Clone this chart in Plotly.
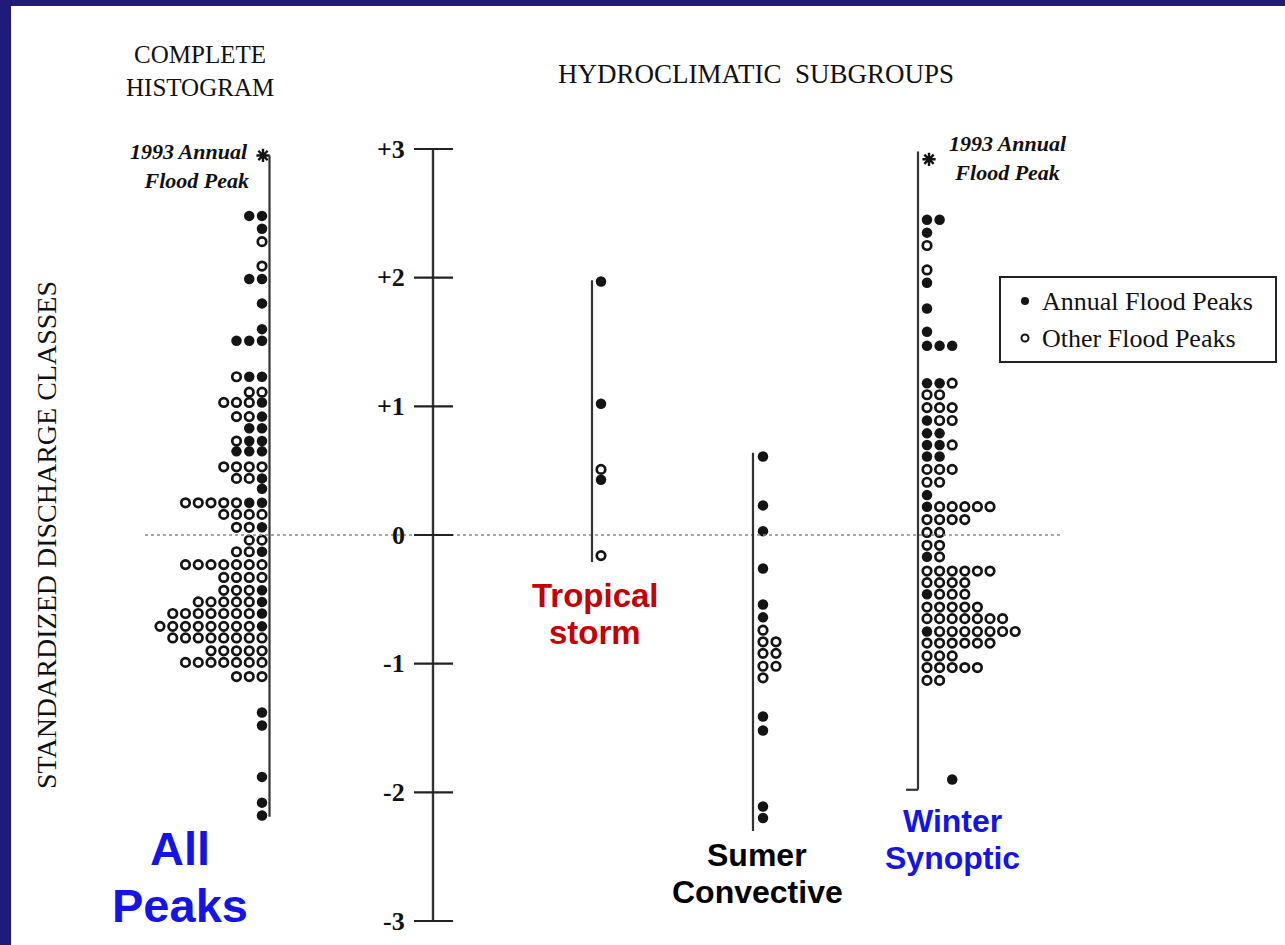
import plotly.graph_objects as go

# ---- standardized discharge classes: one row per class ----
# each row: (class value, annual flood peaks, other flood peaks)
all_values = [2.48, 2.38, 2.28, 2.09, 1.99, 1.80, 1.60, 1.51, 1.23, 1.11, 1.03, 0.92,
              0.83, 0.73, 0.65, 0.53, 0.44, 0.36, 0.25, 0.16, 0.06, -0.04, -0.13, -0.23,
              -0.33, -0.43, -0.52, -0.61, -0.71, -0.80, -0.90, -0.99, -1.10, -1.38, -1.48,
              -1.88, -2.08, -2.18]
all_annual = [2, 1, 0, 0, 2, 1, 1, 3, 2, 0, 1, 1, 2, 2, 3, 0, 1, 1, 2, 0, 1, 0, 1, 0,
              0, 1, 1, 1, 1, 0, 0, 0, 0, 1, 1, 1, 1, 1]
all_other = [0, 0, 1, 1, 0, 0, 0, 0, 1, 2, 3, 2, 0, 1, 0, 4, 2, 0, 5, 4, 2, 2, 2, 7,
             4, 3, 5, 7, 8, 8, 5, 7, 3, 0, 0, 0, 0, 0]

tropical_values = [1.97, 1.02, 0.51, 0.43, -0.16]
tropical_annual = [1, 1, 0, 1, 0]
tropical_other = [0, 0, 1, 0, 1]

summer_values = [0.61, 0.23, 0.03, -0.26, -0.54, -0.64, -0.74, -0.83, -0.92, -1.02,
                 -1.11, -1.41, -1.52, -2.11, -2.20]
summer_annual = [1, 1, 1, 1, 1, 1, 0, 0, 0, 0, 0, 1, 1, 1, 1]
summer_other = [0, 0, 0, 0, 0, 0, 1, 2, 2, 2, 1, 0, 0, 0, 0]

winter_values = [2.45, 2.35, 2.25, 2.06, 1.96, 1.76, 1.58, 1.47, 1.18, 1.09, 0.99, 0.89,
                 0.79, 0.70, 0.61, 0.51, 0.41, 0.31, 0.22, 0.12, 0.02, -0.08, -0.17,
                 -0.28, -0.37, -0.46, -0.56, -0.65, -0.75, -0.84, -0.94, -1.03, -1.13, -1.90]
winter_annual = [2, 1, 0, 0, 1, 1, 1, 3, 2, 0, 0, 1, 2, 2, 2, 0, 0, 1, 1, 0, 0, 0, 1,
                 0, 0, 1, 0, 0, 1, 0, 0, 0, 0, 1]
winter_other = [0, 0, 1, 1, 0, 0, 0, 0, 1, 2, 3, 2, 0, 1, 0, 3, 2, 0, 5, 4, 2, 2, 1,
                6, 4, 3, 5, 7, 7, 6, 3, 5, 2, 0]
winter_start = [0] * 33 + [2]

axis_ticks = [3, 2, 1, 0, -1, -2, -3]
axis_tick_text = ["+3", "+2", "+1", "0", "-1", "-2", "-3"]
peak_1993 = 2.95

# ---- page geometry ----
W, H = 1285, 945
PX_PER_UNIT = 128.67
Y_TOP = 3 + 149 / PX_PER_UNIT
Y_BOT = -3 - (H - 921) / PX_PER_UNIT
INK = "#141414"


def py(v):
    """pixel row of a class value"""
    return (Y_TOP - v) * PX_PER_UNIT


fig = go.Figure()


def add_group(x_axis, direction, gap, dx, values, annual, other, start=None):
    fx, fy, ox, oy = [], [], [], []
    for i, (v, nf, no) in enumerate(zip(values, annual, other)):
        s = start[i] if start else 0
        for k in range(nf + no):
            x = x_axis + direction * (gap + (s + k) * dx)
            if k < nf:
                fx.append(x); fy.append(v)
            else:
                ox.append(x); oy.append(v)
    fig.add_trace(go.Scatter(x=fx, y=fy, mode="markers", showlegend=False, hoverinfo="skip",
                             marker=dict(size=10.5, color=INK, line=dict(width=0))))
    fig.add_trace(go.Scatter(x=ox, y=oy, mode="markers", showlegend=False, hoverinfo="skip",
                             marker=dict(size=8.5, symbol="circle-open", color=INK,
                                         line=dict(width=2.7, color=INK))))


# group axes (x position in page pixels, top/bottom in class units)
AX_ALL, AX_TROP, AX_SUM, AX_WIN, AX_MAIN = 269.5, 592, 753, 918, 433

shapes = []


def vline(x, y0, y1, w=2.2):
    shapes.append(dict(type="line", xref="x", yref="y", x0=x, x1=x, y0=y0, y1=y1,
                       line=dict(color="#333", width=w)))


# zero reference line
shapes.append(dict(type="line", xref="x", yref="y", x0=145, x1=1062, y0=0, y1=0,
                   line=dict(color="#8a8a8a", width=1.6, dash="dot")))

vline(AX_ALL, 2.95, -2.19)
vline(AX_TROP, 1.98, -0.21)
vline(AX_SUM, 0.64, -2.30)
vline(AX_WIN, 2.98, -1.98)
shapes.append(dict(type="line", xref="x", yref="y", x0=906, x1=AX_WIN, y0=-1.98, y1=-1.98,
                   line=dict(color="#333", width=2.2)))
vline(AX_MAIN, 3, -3, 2.4)
for t in axis_ticks:
    shapes.append(dict(type="line", xref="x", yref="y", x0=414, x1=453, y0=t, y1=t,
                       line=dict(color="#222", width=2.2)))

add_group(AX_ALL, -1, 7.5, 12.75, all_values, all_annual, all_other)
add_group(AX_TROP, 1, 9, 13, tropical_values, tropical_annual, tropical_other)
add_group(AX_SUM, 1, 10, 13, summer_values, summer_annual, summer_other)
add_group(AX_WIN, 1, 9, 12.6, winter_values, winter_annual, winter_other, winter_start)

# 1993 annual flood peak markers
fig.add_trace(go.Scatter(x=[263, 929], y=[peak_1993, peak_1993 - 0.03], mode="markers",
                         showlegend=False, hoverinfo="skip",
                         marker=dict(symbol="asterisk-open", size=11, color=INK,
                                     line=dict(width=2.4, color=INK))))

# page frame
NAVY = "#1f1b7a"
shapes.append(dict(type="rect", xref="paper", yref="paper", x0=0, x1=1, y0=1 - 6 / H, y1=1,
                   fillcolor=NAVY, line=dict(width=0)))
shapes.append(dict(type="rect", xref="paper", yref="paper", x0=0, x1=11 / W, y0=0, y1=1,
                   fillcolor=NAVY, line=dict(width=0)))

# legend box
shapes.append(dict(type="rect", xref="paper", yref="paper", x0=1000 / W, x1=1276 / W,
                   y0=1 - 362 / H, y1=1 - 277 / H, line=dict(color="#222", width=2),
                   fillcolor="rgba(0,0,0,0)"))

annotations = []
SERIF = "Liberation Serif"
SANS = "Liberation Sans"


def text(x, y, s, size, family=SERIF, color="#111", anchor="center", angle=0, **kw):
    annotations.append(dict(xref="paper", yref="paper", x=x / W, y=1 - y / H, text=s,
                            showarrow=False, xanchor=anchor, yanchor="middle",
                            textangle=angle,
                            font=dict(family=family, size=size, color=color), **kw))


text(200, 71, "COMPLETE<br>HISTOGRAM", 25)
text(756, 74, "HYDROCLIMATIC&nbsp;&nbsp;SUBGROUPS", 27)
text(46, 535, "STANDARDIZED DISCHARGE CLASSES", 28, angle=-90)

text(188, 166, "<i><b>1993 Annual</b><br>&nbsp;&nbsp;&nbsp;<b>Flood Peak</b></i>", 22)
text(1008, 158, "<i><b>1993 Annual</b><br><b>Flood Peak</b></i>", 22)

for t, lab in zip(axis_ticks, axis_tick_text):
    text(407, py(t), "<b>" + lab + "</b>", 26, anchor="right")

# legend entries
fig.add_trace(go.Scatter(x=[1025], y=[(Y_TOP - 301 / PX_PER_UNIT)], mode="markers",
                         showlegend=False, hoverinfo="skip",
                         marker=dict(size=8, color=INK)))
fig.add_trace(go.Scatter(x=[1025], y=[(Y_TOP - 338 / PX_PER_UNIT)], mode="markers",
                         showlegend=False, hoverinfo="skip",
                         marker=dict(size=7, symbol="circle-open", color=INK,
                                     line=dict(width=2, color=INK))))
text(1040, 301, "Annual Flood Peaks", 26, anchor="left")
text(1040, 338, "Other Flood Peaks", 26, anchor="left")

# subgroup captions
RED, BLUE = "#c40000", "#1414e6"
text(595, 595, "<b>Tropical</b>", 33, SANS, RED)
text(595, 632, "<b>storm</b>", 33, SANS, RED)
text(757, 855, "<b>Sumer</b>", 32, SANS, "#000")
text(757, 892, "<b>Convective</b>", 32, SANS, "#000")
text(952, 821, "<b>Winter</b>", 32, SANS, BLUE)
text(952, 858, "<b>Synoptic</b>", 32, SANS, BLUE)
text(180, 848, "<b>All</b>", 47, SANS, BLUE)
text(180, 905, "<b>Peaks</b>", 47, SANS, BLUE)

fig.update_layout(
    width=W, height=H,
    margin=dict(l=0, r=0, t=0, b=0),
    paper_bgcolor="white", plot_bgcolor="white",
    xaxis=dict(range=[0, W], visible=False, fixedrange=True),
    yaxis=dict(range=[Y_BOT, Y_TOP], visible=False, fixedrange=True),
    shapes=shapes, annotations=annotations,
)

fig.write_html("out.html", config={"displayModeBar": False})
